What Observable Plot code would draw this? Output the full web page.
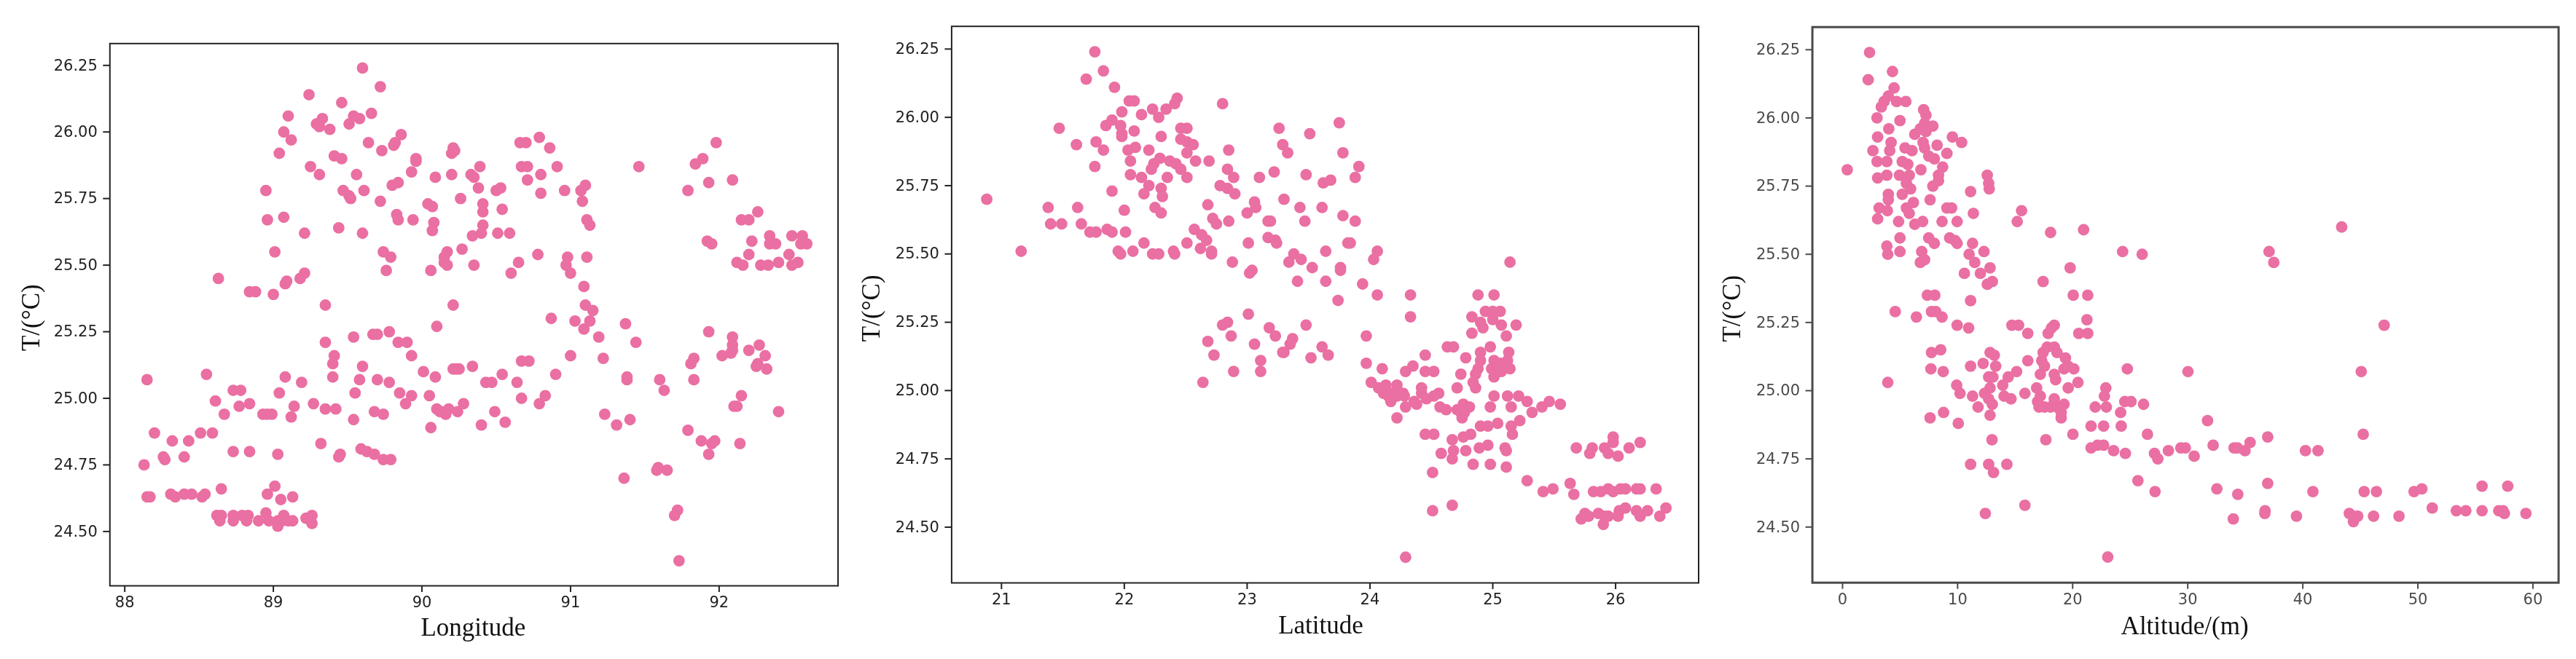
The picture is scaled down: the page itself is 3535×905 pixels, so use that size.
<!DOCTYPE html>
<html>
<head>
<meta charset="utf-8">
<script src="https://cdn.jsdelivr.net/npm/d3@7"></script>
<script src="https://cdn.jsdelivr.net/npm/@observablehq/plot@0.6"></script>
<style>
html,body{margin:0;padding:0;background:#fff;width:3535px;height:905px;overflow:hidden}
#row{display:flex;flex-direction:row;align-items:flex-start}
#row svg{display:block;flex:none;background:#fff}
</style>
</head>
<body>
<div id="row"></div>
<script>
const pink = "#ea6fa2";
const temperatureTicks = [24.5, 24.75, 25, 25.25, 25.5, 25.75, 26, 26.25];
const longitudeTicks = [88, 89, 90, 91, 92];
const latitudeTicks = [21, 22, 23, 24, 25, 26];
const altitudeTicks = [0, 10, 20, 30, 40, 50, 60];
const yLabel = "T/(°C)";

const longitudePoints = [[89.60,26.24],[89.72,26.17],[89.24,26.14],[89.46,26.11],[89.10,26.06],[89.33,26.05],[89.29,26.03],[89.31,26.02],[89.38,26.01],[89.54,26.06],[89.58,26.05],[89.51,26.03],[89.66,26.07],[89.07,26.00],[89.12,25.97],[89.64,25.96],[89.86,25.99],[89.82,25.96],[89.81,25.95],[89.73,25.93],[89.04,25.92],[89.41,25.91],[89.46,25.90],[89.96,25.90],[89.96,25.89],[89.25,25.87],[89.93,25.85],[89.31,25.84],[89.56,25.84],[90.09,25.83],[89.80,25.80],[89.84,25.81],[88.95,25.78],[89.47,25.78],[89.61,25.78],[89.52,25.75],[89.51,25.76],[89.72,25.74],[90.04,25.73],[90.07,25.72],[88.96,25.67],[89.07,25.68],[89.83,25.69],[89.84,25.67],[89.94,25.67],[90.08,25.66],[90.07,25.63],[89.44,25.64],[89.21,25.62],[89.60,25.62],[89.01,25.55],[89.74,25.55],[89.79,25.53],[90.17,25.55],[90.15,25.53],[90.15,25.51],[90.17,25.50],[89.76,25.48],[90.06,25.48],[88.63,25.45],[89.21,25.47],[89.18,25.45],[89.08,25.43],[89.09,25.44],[88.84,25.40],[88.88,25.40],[89.00,25.39],[89.35,25.35],[90.21,25.35],[90.10,25.27],[90.21,25.94],[90.20,25.92],[90.22,25.93],[90.20,25.84],[90.39,25.87],[90.33,25.84],[90.35,25.83],[90.38,25.79],[90.50,25.78],[90.53,25.79],[90.26,25.75],[90.41,25.73],[90.41,25.70],[90.54,25.71],[90.41,25.65],[90.40,25.62],[90.34,25.61],[90.51,25.62],[90.59,25.62],[90.27,25.56],[90.35,25.50],[90.66,25.96],[90.70,25.96],[90.79,25.98],[90.86,25.94],[90.67,25.87],[90.71,25.87],[90.91,25.87],[90.80,25.84],[90.71,25.82],[90.80,25.77],[90.96,25.78],[91.10,25.80],[91.07,25.78],[91.08,25.74],[91.11,25.67],[91.13,25.65],[90.65,25.51],[90.60,25.47],[90.78,25.54],[90.98,25.53],[90.97,25.50],[91.00,25.47],[91.11,25.53],[91.09,25.42],[91.46,25.87],[91.84,25.88],[91.89,25.90],[91.98,25.96],[91.93,25.81],[92.09,25.82],[91.79,25.78],[92.26,25.70],[92.15,25.67],[92.20,25.67],[91.92,25.59],[91.95,25.58],[92.22,25.59],[92.34,25.61],[92.34,25.58],[92.38,25.58],[92.49,25.61],[92.56,25.61],[92.55,25.58],[92.59,25.58],[92.20,25.54],[92.47,25.54],[92.12,25.51],[92.16,25.50],[92.28,25.50],[92.33,25.50],[92.40,25.51],[92.53,25.51],[92.49,25.50],[91.10,25.35],[91.15,25.33],[90.87,25.30],[91.03,25.29],[91.13,25.29],[91.09,25.26],[91.37,25.28],[91.19,25.23],[91.44,25.21],[91.93,25.25],[92.09,25.23],[92.09,25.20],[92.09,25.18],[92.08,25.17],[92.02,25.16],[92.20,25.18],[92.27,25.20],[92.31,25.16],[92.25,25.12],[92.26,25.13],[92.32,25.11],[91.83,25.15],[91.81,25.13],[91.83,25.07],[91.60,25.07],[91.63,25.03],[92.15,25.01],[92.10,24.97],[92.12,24.97],[92.40,24.95],[91.79,24.88],[91.88,24.84],[91.97,24.84],[91.95,24.83],[91.93,24.79],[92.14,24.83],[91.58,24.73],[91.59,24.74],[91.65,24.73],[91.36,24.70],[91.72,24.58],[91.70,24.56],[91.73,24.39],[91.00,25.16],[91.22,25.15],[91.38,25.08],[91.38,25.07],[90.90,25.09],[91.23,24.94],[91.40,24.92],[91.31,24.90],[90.83,25.01],[90.79,24.98],[90.67,25.00],[90.64,25.06],[90.54,25.09],[90.67,25.14],[90.72,25.14],[90.34,25.12],[90.23,25.11],[90.25,25.11],[90.43,25.06],[90.47,25.06],[90.28,24.98],[90.24,24.95],[90.18,24.96],[90.16,24.94],[90.12,24.95],[90.49,24.95],[90.40,24.90],[90.56,24.91],[89.35,25.21],[89.54,25.23],[89.67,25.24],[89.70,25.24],[89.78,25.25],[89.84,25.21],[89.90,25.21],[89.93,25.16],[89.41,25.16],[89.40,25.13],[89.40,25.08],[89.60,25.12],[89.58,25.07],[89.70,25.07],[89.78,25.06],[90.01,25.10],[90.09,25.08],[90.21,25.11],[89.55,25.02],[89.85,25.02],[89.93,25.01],[89.89,24.98],[90.05,25.01],[90.10,24.96],[90.13,24.95],[89.68,24.95],[89.74,24.94],[89.54,24.92],[90.06,24.89],[89.27,24.98],[89.35,24.96],[89.42,24.96],[89.14,24.97],[89.12,24.93],[89.04,25.02],[89.08,25.08],[89.19,25.06],[88.55,25.09],[88.15,25.07],[88.73,25.03],[88.78,25.03],[88.61,24.99],[88.77,24.97],[88.84,24.98],[88.67,24.94],[88.93,24.94],[88.96,24.94],[88.99,24.94],[88.20,24.87],[88.51,24.87],[88.59,24.87],[88.32,24.84],[88.43,24.84],[88.26,24.78],[88.27,24.77],[88.40,24.78],[88.13,24.75],[88.73,24.80],[88.84,24.80],[89.03,24.79],[89.32,24.83],[89.45,24.79],[89.44,24.78],[89.59,24.81],[89.63,24.80],[89.68,24.79],[89.74,24.77],[89.79,24.77],[88.65,24.66],[89.01,24.67],[88.96,24.64],[89.05,24.62],[89.13,24.63],[88.15,24.63],[88.17,24.63],[88.31,24.64],[88.34,24.63],[88.40,24.64],[88.45,24.64],[88.54,24.64],[88.52,24.63],[88.62,24.56],[88.65,24.56],[88.64,24.54],[88.73,24.56],[88.73,24.54],[88.79,24.56],[88.83,24.56],[88.82,24.54],[88.90,24.54],[88.95,24.57],[88.97,24.54],[89.03,24.54],[89.03,24.52],[89.07,24.56],[89.06,24.54],[89.10,24.54],[89.13,24.54],[89.22,24.55],[89.26,24.56],[89.26,24.53]];

const latitudePoints = [[20.88,25.70],[21.16,25.51],[21.47,25.96],[21.61,25.90],[21.76,26.24],[21.83,26.17],[21.69,26.14],[21.92,26.11],[22.04,26.06],[22.08,26.06],[21.98,26.02],[22.14,26.01],[22.23,26.03],[22.28,26.00],[22.34,26.03],[22.41,26.05],[22.43,26.07],[21.85,25.97],[21.90,25.99],[21.97,25.97],[21.98,25.93],[21.98,25.94],[22.08,25.95],[21.77,25.91],[21.83,25.88],[21.76,25.82],[22.09,25.89],[22.03,25.88],[22.05,25.84],[22.20,25.88],[22.30,25.93],[22.46,25.96],[22.51,25.96],[22.46,25.92],[22.51,25.91],[22.56,25.90],[22.51,25.87],[22.58,25.84],[22.69,25.84],[22.29,25.85],[22.24,25.83],[22.22,25.81],[22.37,25.84],[22.42,25.83],[22.46,25.81],[22.51,25.78],[22.35,25.78],[22.05,25.79],[22.14,25.78],[22.20,25.75],[22.16,25.72],[22.30,25.74],[22.31,25.71],[22.25,25.67],[22.30,25.65],[21.90,25.73],[22.00,25.66],[21.38,25.67],[21.62,25.67],[21.40,25.61],[21.49,25.61],[21.65,25.61],[21.72,25.58],[21.77,25.58],[21.86,25.59],[21.90,25.58],[22.01,25.58],[22.16,25.54],[21.95,25.51],[21.97,25.50],[22.07,25.51],[22.23,25.50],[22.28,25.50],[22.40,25.51],[22.41,25.50],[22.51,25.54],[22.57,25.59],[22.63,25.57],[22.67,25.55],[22.62,25.52],[22.71,25.51],[22.71,25.50],[22.80,26.05],[22.85,25.88],[22.84,25.81],[22.89,25.78],[22.78,25.75],[22.84,25.74],[22.90,25.72],[22.68,25.68],[22.72,25.63],[22.75,25.61],[22.85,25.62],[23.10,25.78],[23.22,25.80],[23.06,25.69],[23.07,25.67],[23.00,25.65],[23.17,25.62],[23.19,25.62],[23.01,25.54],[23.17,25.56],[23.23,25.55],[23.24,25.54],[22.88,25.47],[23.02,25.43],[23.04,25.44],[23.26,25.96],[23.29,25.90],[23.30,25.70],[23.01,25.28],[22.80,25.24],[22.84,25.25],[23.18,25.23],[23.51,25.94],[23.75,25.98],[23.33,25.87],[23.78,25.87],[23.91,25.82],[23.88,25.78],[23.48,25.79],[23.68,25.77],[23.62,25.76],[23.43,25.67],[23.61,25.67],[23.78,25.64],[23.88,25.62],[23.47,25.62],[23.82,25.54],[23.84,25.54],[23.38,25.50],[23.44,25.48],[23.34,25.47],[23.53,25.45],[23.64,25.51],[23.76,25.45],[23.76,25.44],[24.06,25.51],[24.03,25.48],[23.41,25.40],[23.64,25.40],[23.94,25.39],[24.06,25.35],[23.74,25.33],[24.33,25.35],[24.33,25.27],[23.48,25.24],[25.14,25.47],[24.88,25.35],[25.01,25.35],[24.94,25.29],[25.00,25.29],[25.06,25.29],[24.83,25.27],[24.90,25.25],[24.92,25.23],[25.00,25.26],[25.07,25.24],[25.19,25.24],[22.68,25.18],[22.73,25.13],[22.87,25.20],[22.89,25.07],[22.64,25.03],[23.06,25.17],[23.11,25.11],[23.11,25.07],[23.23,25.20],[23.30,25.14],[23.37,25.19],[23.35,25.17],[23.29,25.14],[23.61,25.16],[23.66,25.13],[23.52,25.12],[23.97,25.20],[23.97,25.10],[24.10,25.08],[24.29,25.07],[24.35,25.09],[24.45,25.13],[24.45,25.07],[24.52,25.07],[24.01,25.03],[24.07,25.01],[24.13,25.02],[24.22,25.02],[24.11,24.99],[24.17,24.99],[24.27,24.99],[24.15,24.98],[24.17,24.96],[24.22,24.98],[24.28,24.98],[24.42,25.01],[24.42,24.99],[24.56,24.99],[24.52,24.98],[24.46,24.97],[24.36,24.96],[24.38,24.95],[24.29,24.94],[24.22,24.90],[24.57,24.94],[24.62,24.93],[24.71,24.93],[24.76,24.95],[24.81,24.94],[24.74,24.92],[24.75,24.90],[24.77,24.92],[24.71,25.01],[24.74,25.06],[24.78,25.12],[24.63,25.16],[24.68,25.16],[24.90,25.14],[24.98,25.16],[24.83,25.21],[25.11,25.20],[25.13,25.14],[24.90,25.11],[24.88,25.08],[24.86,25.06],[24.84,25.03],[24.86,25.01],[25.01,25.11],[25.06,25.10],[25.12,25.11],[24.99,25.08],[25.07,25.07],[25.14,25.08],[25.01,25.05],[25.01,24.98],[24.98,24.94],[25.12,24.98],[25.15,24.94],[25.21,24.98],[25.28,24.96],[25.32,24.92],[25.40,24.94],[25.46,24.96],[25.55,24.95],[24.90,24.87],[24.96,24.87],[25.04,24.88],[25.22,24.89],[25.15,24.87],[25.16,24.84],[24.45,24.84],[24.52,24.84],[24.82,24.84],[24.76,24.83],[24.67,24.82],[24.58,24.77],[24.68,24.78],[24.67,24.75],[24.78,24.78],[24.89,24.79],[24.96,24.80],[25.10,24.79],[25.11,24.78],[24.84,24.73],[24.98,24.73],[25.11,24.72],[24.51,24.70],[24.67,24.58],[24.51,24.56],[24.29,24.39],[25.28,24.67],[25.41,24.63],[25.49,24.64],[25.63,24.66],[25.66,24.62],[25.68,24.79],[25.81,24.79],[25.79,24.77],[25.98,24.83],[25.98,24.81],[25.91,24.79],[25.94,24.77],[26.02,24.76],[26.11,24.79],[26.20,24.81],[25.82,24.63],[25.88,24.63],[25.94,24.64],[25.98,24.63],[26.04,24.64],[26.08,24.64],[26.17,24.64],[26.20,24.64],[26.33,24.64],[25.72,24.53],[25.75,24.55],[25.78,24.54],[25.86,24.55],[25.91,24.54],[25.90,24.51],[25.94,24.54],[26.03,24.56],[26.02,24.54],[26.08,24.57],[26.17,24.56],[26.20,24.54],[26.26,24.56],[26.36,24.54],[26.41,24.57]];

const altitudePoints = [[2.35,26.24],[4.34,26.17],[2.23,26.14],[4.48,26.11],[5.50,26.06],[4.70,26.06],[3.61,26.06],[3.98,26.08],[3.37,26.04],[3.00,26.00],[7.05,26.03],[7.25,26.01],[4.99,25.99],[4.02,25.96],[7.85,25.97],[7.13,25.98],[6.76,25.96],[6.28,25.94],[7.25,25.95],[9.55,25.93],[10.35,25.91],[3.05,25.93],[4.22,25.91],[4.10,25.88],[8.22,25.90],[7.00,25.91],[7.13,25.89],[7.49,25.86],[9.07,25.87],[5.43,25.89],[6.04,25.88],[2.64,25.88],[3.00,25.84],[3.85,25.84],[5.19,25.84],[5.67,25.83],[8.70,25.82],[7.98,25.85],[6.81,25.81],[0.41,25.81],[8.34,25.79],[8.34,25.77],[7.85,25.75],[3.05,25.78],[3.85,25.79],[4.95,25.79],[5.80,25.79],[5.55,25.76],[12.58,25.79],[12.70,25.76],[12.75,25.74],[11.13,25.73],[5.92,25.74],[3.98,25.72],[3.98,25.70],[5.19,25.72],[7.61,25.70],[6.16,25.69],[5.55,25.67],[5.80,25.65],[3.18,25.67],[3.90,25.66],[3.05,25.63],[4.87,25.62],[6.28,25.61],[6.96,25.62],[8.65,25.62],[9.96,25.62],[9.07,25.67],[9.48,25.67],[11.37,25.65],[15.56,25.66],[15.18,25.62],[18.08,25.58],[20.95,25.59],[4.99,25.56],[7.49,25.56],[7.98,25.54],[9.31,25.56],[9.79,25.55],[9.96,25.54],[11.30,25.54],[3.85,25.53],[3.93,25.50],[4.99,25.51],[6.88,25.51],[7.13,25.48],[6.76,25.47],[11.00,25.50],[12.29,25.51],[11.49,25.47],[11.98,25.43],[12.82,25.45],[10.59,25.43],[12.58,25.39],[13.02,25.40],[17.43,25.40],[19.78,25.45],[24.34,25.51],[26.04,25.50],[7.37,25.35],[8.02,25.35],[11.13,25.33],[20.05,25.35],[21.31,25.35],[4.58,25.29],[6.42,25.27],[7.73,25.29],[8.10,25.29],[8.65,25.27],[9.96,25.24],[10.96,25.23],[14.72,25.24],[15.30,25.24],[16.10,25.21],[18.40,25.24],[18.16,25.23],[17.87,25.21],[21.24,25.26],[20.53,25.21],[21.31,25.21],[43.38,25.60],[37.07,25.51],[37.48,25.47],[47.07,25.24],[7.73,25.14],[8.53,25.15],[7.68,25.08],[8.75,25.07],[3.93,25.03],[11.13,25.09],[12.22,25.10],[12.82,25.14],[13.19,25.13],[13.31,25.09],[12.70,25.05],[13.07,25.05],[15.13,25.07],[14.40,25.05],[16.10,25.11],[9.92,25.02],[10.21,24.99],[11.30,24.98],[12.34,24.99],[12.82,25.01],[12.70,24.97],[13.02,24.95],[11.78,24.94],[13.92,25.02],[14.04,24.98],[14.64,24.97],[15.85,24.99],[16.87,25.01],[17.19,24.98],[16.95,24.96],[17.07,24.94],[17.55,24.94],[7.61,24.90],[8.78,24.92],[12.82,24.91],[10.06,24.88],[12.99,24.82],[17.67,24.82],[17.43,25.14],[17.79,25.16],[18.40,25.16],[18.64,25.14],[17.31,25.11],[17.55,25.09],[17.19,25.06],[19.37,25.12],[18.52,25.04],[18.40,25.06],[19.25,25.08],[20.10,25.08],[19.61,25.09],[20.46,25.03],[19.61,25.01],[18.40,24.97],[19.25,24.95],[18.64,24.94],[19.00,24.92],[19.00,24.90],[18.08,24.94],[22.88,25.01],[22.76,24.98],[22.93,24.94],[21.96,24.94],[24.75,25.08],[24.53,24.96],[25.07,24.96],[24.17,24.92],[26.16,24.95],[21.60,24.87],[22.69,24.87],[24.22,24.87],[20.02,24.84],[21.60,24.79],[22.16,24.80],[22.69,24.80],[23.56,24.78],[24.58,24.77],[11.13,24.73],[12.70,24.73],[13.12,24.70],[14.28,24.73],[25.67,24.67],[12.41,24.55],[15.85,24.58],[23.05,24.39],[30.02,25.07],[31.72,24.89],[26.50,24.84],[27.11,24.77],[27.40,24.75],[28.32,24.78],[29.40,24.79],[29.79,24.79],[30.56,24.76],[32.21,24.80],[34.03,24.79],[34.32,24.79],[34.98,24.78],[35.42,24.81],[36.95,24.83],[40.23,24.78],[41.32,24.78],[45.25,24.84],[45.08,25.07],[27.16,24.63],[32.53,24.64],[34.35,24.62],[36.95,24.66],[40.88,24.63],[45.33,24.63],[46.40,24.63],[49.67,24.63],[50.35,24.64],[55.58,24.65],[57.81,24.65],[33.96,24.53],[36.70,24.55],[36.72,24.56],[39.45,24.54],[44.04,24.55],[44.77,24.54],[44.40,24.52],[44.40,24.54],[46.15,24.54],[48.36,24.54],[51.25,24.57],[53.34,24.56],[54.17,24.56],[55.58,24.56],[57.03,24.56],[57.40,24.56],[57.52,24.55],[59.39,24.55]];

function panel(points, o) {
  return Plot.plot({
    width: o.width, height: 905,
    marginLeft: o.marginLeft, marginRight: o.marginRight, marginTop: o.marginTop, marginBottom: o.marginBottom,
    style: {background: "#fff", filter: `blur(${o.blur}px)`},
    x: {domain: o.xDomain, label: null},
    y: {domain: o.yDomain, label: null},
    marks: [
      Plot.dot(points, {x: d => d[0], y: d => d[1], r: 7.9, fill: pink, stroke: "none"}),
      Plot.axisX(o.xTicks, {tickSize: 9, tickPadding: 6, fontSize: 21, fontFamily: "DejaVu Sans", stroke: o.ink, fill: o.ink, strokeWidth: 2, label: null, tickFormat: d3.format("d")}),
      Plot.axisY(temperatureTicks, {tickSize: 9, tickPadding: 8, fontSize: 21, fontFamily: "DejaVu Sans", stroke: o.ink, fill: o.ink, strokeWidth: 2, label: null, tickFormat: d3.format(".2f")}),
      Plot.frame({stroke: o.ink, strokeWidth: o.frameWidth}),
      Plot.text([o.xLabel], {frameAnchor: "bottom", text: d => d, fontSize: 35, fontFamily: "Liberation Serif", fill: "#111", lineAnchor: "bottom", dx: o.xLabelDx, dy: o.xLabelDy}),
      Plot.text([yLabel], {frameAnchor: "left", text: d => d, rotate: -90, textAnchor: "middle", lineAnchor: "bottom", fontSize: 35, fontFamily: "Liberation Serif", fill: "#111", dx: o.yLabelDx, dy: o.yLabelDy})
    ]
  });
}

const row = document.getElementById("row");
row.append(
  panel(longitudePoints, {width: 1170, marginLeft: 150.3, marginRight: 20.5, marginTop: 59.3, marginBottom: 101,
    xDomain: [87.90, 92.80], yDomain: [24.296, 26.332], xTicks: longitudeTicks, xLabel: "Longitude",
    ink: "#222", frameWidth: 2, blur: 0.4, xLabelDx: -1, xLabelDy: 68, yLabelDx: -97, yLabelDy: 4}),
  panel(latitudePoints, {width: 1170, marginLeft: 135.4, marginRight: 9.5, marginTop: 35.7, marginBottom: 105,
    xDomain: [20.594, 26.676], yDomain: [24.296, 26.333], xTicks: latitudeTicks, xLabel: "Latitude",
    ink: "#222", frameWidth: 2, blur: 0.4, xLabelDx: -6, xLabelDy: 69, yLabelDx: -99, yLabelDy: 5}),
  panel(altitudePoints, {width: 1195, marginLeft: 146.6, marginRight: 24.4, marginTop: 36.7, marginBottom: 105.3,
    xDomain: [-2.62, 62.23], yDomain: [24.296, 26.333], xTicks: altitudeTicks, xLabel: "Altitude/(m)",
    ink: "#4a4a4a", frameWidth: 3, blur: 0.7, xLabelDx: -1, xLabelDy: 71, yLabelDx: -99, yLabelDy: 5})
);
</script>
</body>
</html>
